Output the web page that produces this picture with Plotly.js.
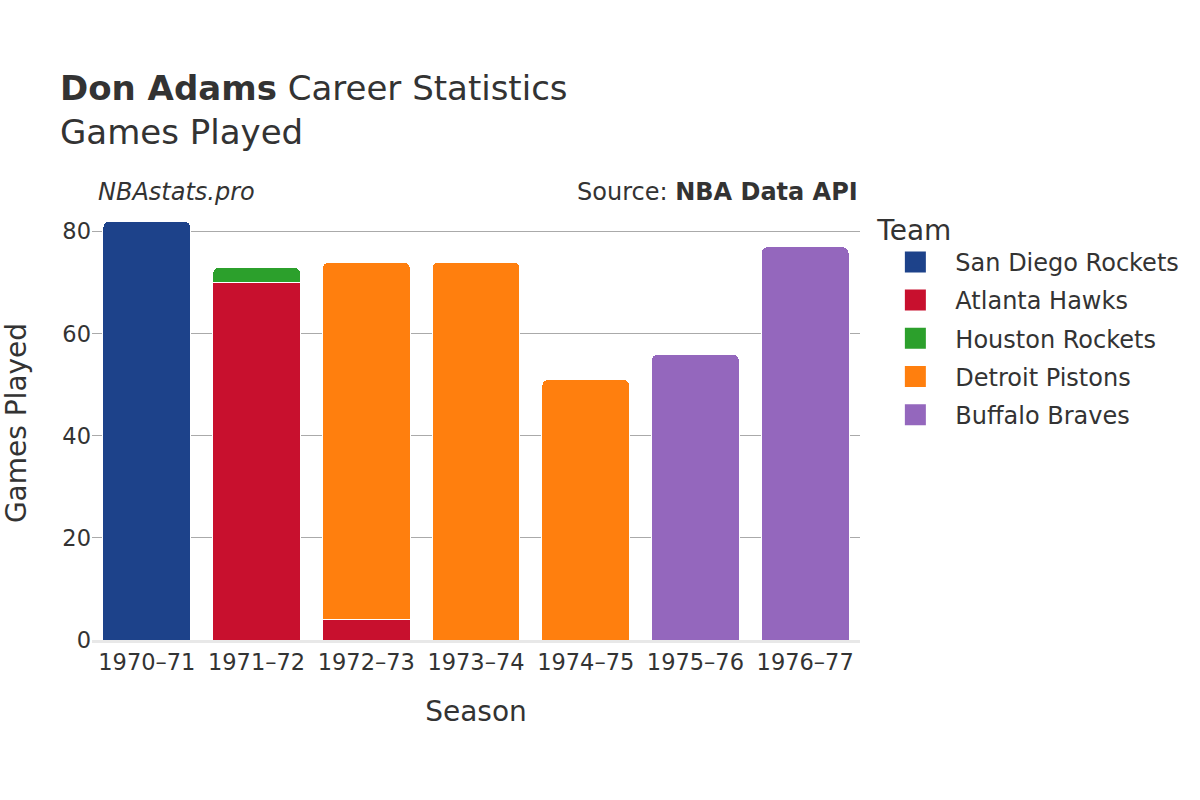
<!DOCTYPE html>
<html>
<head>
<meta charset="utf-8">
<script src="https://cdn.plot.ly/plotly-3.0.1.min.js"></script>
<style>html,body{margin:0;padding:0;background:#fff;}</style>
</head>
<body>
<div id="chart" style="width:1200px;height:800px;"></div>
<script>
const seasons = ["1970–71","1971–72","1972–73","1973–74","1974–75","1975–76","1976–77"];
const teams = ["San Diego Rockets","Atlanta Hawks","Houston Rockets","Detroit Pistons","Buffalo Braves"];
const colors = ["#1d428a","#c8102e","#2ca02c","#ff7f0e","#9467bd"];
const sanDiegoRockets = [82, null, null, null, null, null, null];
const atlantaHawks    = [null, 70, 4, null, null, null, null];
const houstonRockets  = [null, 3, null, null, null, null, null];
const detroitPistons  = [null, null, 70, 74, 51, null, null];
const buffaloBraves   = [null, null, null, null, null, 56, 77];
const series = [sanDiegoRockets, atlantaHawks, houstonRockets, detroitPistons, buffaloBraves];

const font = "DejaVu Sans, sans-serif";
const traces = [];
teams.forEach((t, i) => {
  traces.push({
    type: "bar",
    name: t,
    legendgroup: t,
    showlegend: false,
    x: seasons,
    y: series[i],
    marker: {color: colors[i], line: {color: "#ffffff", width: 1}},
    hoverinfo: "x+y+name"
  });
});
teams.forEach((t, i) => {
  traces.push({
    type: "scatter",
    mode: "markers",
    name: t,
    legendgroup: t,
    showlegend: true,
    x: [null],
    y: [null],
    marker: {color: colors[i], symbol: "square", size: 16, line: {color: colors[i], width: 5}},
    hoverinfo: "skip"
  });
});

const layout = {
  width: 1200, height: 800,
  paper_bgcolor: "#ffffff", plot_bgcolor: "#ffffff",
  barmode: "stack",
  bargap: 0.2,
  barcornerradius: 6,
  font: {family: font, color: "#333333", size: 22},
  margin: {l: 92, r: 340, t: 206, b: 160},
  title: {
    text: "<b>Don Adams</b> Career Statistics<br>Games Played",
    font: {family: font, size: 34, color: "#333333"},
    x: 0.05, xanchor: "left", y: 0.875, yanchor: "top"
  },
  xaxis: {
    title: {text: "Season", font: {size: 28, color: "#333333"}, standoff: 28},
    tickfont: {size: 22.5, color: "#333333"},
    showline: true, linecolor: "#e8e8e8", linewidth: 3,
    showgrid: false, ticks: "",
    fixedrange: true
  },
  yaxis: {
    title: {text: "Games Played", font: {size: 28, color: "#333333"}, standoff: 28},
    tickfont: {size: 22.5, color: "#333333"},
    range: [0, 85],
    dtick: 20,
    showgrid: true, gridcolor: "#aaaaaa", gridwidth: 1,
    zeroline: false, ticks: "",
    fixedrange: true
  },
  legend: {
    title: {text: "Team", font: {size: 28, color: "#333333"}},
    font: {size: 24, color: "#333333"},
    x: 1.02, xanchor: "left", y: 1.006, yanchor: "top",
    itemwidth: 70,
    traceorder: "grouped",
    tracegroupgap: 4
  },
  annotations: [
    {text: "<i>NBAstats.pro</i>", xref: "paper", yref: "paper", x: 0.005, y: 0.996,
     xanchor: "left", yanchor: "bottom", showarrow: false, font: {size: 24, color: "#333333"}},
    {text: "Source: <b>NBA Data API</b>", xref: "paper", yref: "paper", x: 1.0, y: 0.996,
     xanchor: "right", yanchor: "bottom", showarrow: false, font: {size: 24, color: "#333333"}}
  ]
};

Plotly.newPlot("chart", traces, layout, {displayModeBar: false});
</script>
</body>
</html>
